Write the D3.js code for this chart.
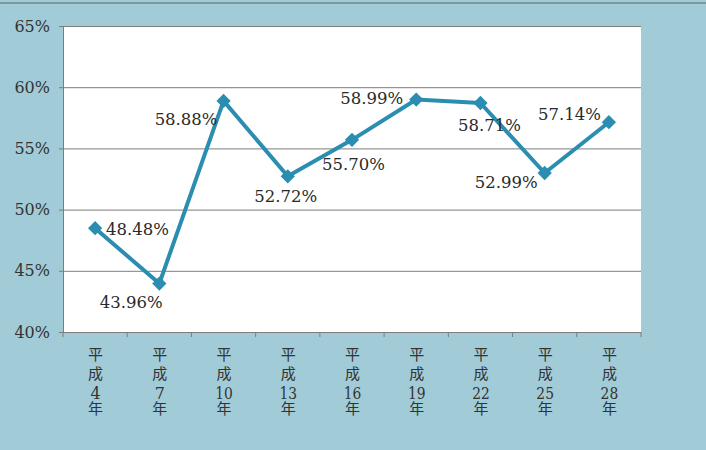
<!DOCTYPE html>
<html>
<head>
<meta charset="utf-8">
<script src="https://cdn.jsdelivr.net/npm/d3@7"></script>
<style>
body { margin: 0; background: #a2cbd8; }
#chart { position: relative; width: 706px; height: 450px; }
svg { display: block; }
.serif { font-family: "DejaVu Serif", "Liberation Serif", serif; }
.xlab {
	position: absolute;
	writing-mode: vertical-rl;
	text-orientation: upright;
	font-family: "Noto Sans CJK JP", sans-serif;
	font-size: 15px;
	line-height: 1;
	letter-spacing: 4px;
	color: #333;
	transform: translateX(-50%);
}
.xlab .num {
	text-combine-upright: all;
	font-family: "DejaVu Serif", serif;
	font-size: 16px;
}
</style>
</head>
<body>
<div id="chart"></div>
<script>
// data
var eras = ["平成", "平成", "平成", "平成", "平成", "平成", "平成", "平成", "平成"];
var yearNums = ["4", "7", "10", "13", "16", "19", "22", "25", "28"];
var rates = [48.48, 43.96, 58.88, 52.72, 55.70, 58.99, 58.71, 52.99, 57.14];
var yTicks = [40, 45, 50, 55, 60, 65];

// where each value label sits relative to its point
var labelPlace = [
	{ anchor: "start", dx: 11, dy: 7 },
	{ anchor: "middle", dx: -28, dy: 24 },
	{ anchor: "end", dx: -6, dy: 24 },
	{ anchor: "middle", dx: -2, dy: 26 },
	{ anchor: "start", dx: -30, dy: 30 },
	{ anchor: "end", dx: -13, dy: 4 },
	{ anchor: "middle", dx: 9, dy: 28 },
	{ anchor: "end", dx: -7, dy: 15 },
	{ anchor: "end", dx: -8, dy: -2 }
];

var cats = yearNums.map(function(n, i) { return eras[i] + n + "年"; });

var w = 706, h = 450;
var margin = { left: 63, right: 65, top: 26, bottom: 118 };
var iw = w - margin.left - margin.right;
var ih = h - margin.top - margin.bottom;

var root = d3.select("#chart");
var svg = root.append("svg")
	.attr("width", w)
	.attr("height", h);

svg.append("rect")
	.attr("width", w).attr("height", h)
	.attr("fill", "#a2cbd8");

// thin dark edge at top of the scan
svg.append("line")
	.attr("x1", 0).attr("x2", w)
	.attr("y1", 3).attr("y2", 3)
	.attr("stroke", "#6f8890").attr("stroke-width", 1.5);

var chart = svg.append("g")
	.attr("transform", "translate(" + margin.left + "," + margin.top + ")");

chart.append("rect")
	.attr("width", iw).attr("height", ih)
	.attr("fill", "#ffffff");

var x = d3.scaleBand().domain(cats).range([0, iw]);
var y = d3.scaleLinear().domain([40, 65]).range([ih, 0]);

// grid
chart.selectAll(".grid")
	.data(yTicks).enter()
	.append("line")
	.attr("class", "grid")
	.attr("x1", 0).attr("x2", iw)
	.attr("y1", function(d) { return y(d) + 0.5; })
	.attr("y2", function(d) { return y(d) + 0.5; })
	.attr("stroke", "#7d7d7d").attr("stroke-width", 1);

var yAxis = d3.axisLeft(y).tickValues(yTicks)
	.tickFormat(function(d) { return d + "%"; })
	.tickSize(4).tickPadding(6);

var gy = chart.append("g").call(yAxis).attr("font-family", null);
gy.select(".domain").attr("stroke", "#7d7d7d");
gy.selectAll(".tick line").attr("stroke", "#7d7d7d");
gy.selectAll(".tick text")
	.attr("class", "serif")
	.attr("font-size", 16).attr("fill", "#333")
	.attr("dx", -3);

// x axis: ticks at band edges
var gx = chart.append("g").attr("transform", "translate(0," + ih + ")");
gx.append("line")
	.attr("x1", 0).attr("x2", iw)
	.attr("y1", 0.5).attr("y2", 0.5)
	.attr("stroke", "#7d7d7d");
gx.selectAll(".xtick")
	.data(cats.concat(["end"])).enter()
	.append("line")
	.attr("x1", function(d, i) { return i * x.bandwidth(); })
	.attr("x2", function(d, i) { return i * x.bandwidth(); })
	.attr("y1", 0).attr("y2", 5)
	.attr("stroke", "#7d7d7d");

// vertical category labels (tategaki with horizontal numerals)
root.selectAll(".xlab")
	.data(cats).enter()
	.append("div")
	.attr("class", "xlab")
	.style("left", function(d) { return (margin.left + x(d) + x.bandwidth() / 2) + "px"; })
	.style("top", (margin.top + ih + 15) + "px")
	.html(function(d, i) {
		return eras[i] + '<span class="num">' + yearNums[i] + "</span>年";
	});

var cx = function(d, i) { return x(cats[i]) + x.bandwidth() / 2; };

var line = d3.line()
	.x(function(d, i) { return cx(d, i); })
	.y(function(d) { return y(d); });

chart.append("path")
	.datum(rates)
	.attr("d", line)
	.attr("fill", "none")
	.attr("stroke", "#2b8eb0")
	.attr("stroke-width", 4)
	.attr("stroke-linejoin", "round");

chart.selectAll(".pt")
	.data(rates).enter()
	.append("path")
	.attr("class", "pt")
	.attr("d", d3.symbol().type(d3.symbolDiamond2).size(130))
	.attr("transform", function(d, i) {
		return "translate(" + cx(d, i) + "," + y(d) + ")";
	})
	.attr("fill", "#2b8eb0");

chart.selectAll(".lbl")
	.data(rates).enter()
	.append("text")
	.attr("class", "lbl serif")
	.attr("x", function(d, i) { return cx(d, i) + labelPlace[i].dx; })
	.attr("y", function(d, i) { return y(d) + labelPlace[i].dy; })
	.attr("text-anchor", function(d, i) { return labelPlace[i].anchor; })
	.attr("font-size", 16.5)
	.attr("fill", "#2a2a2a")
	.text(function(d) { return d.toFixed(2) + "%"; });
</script>
</body>
</html>
